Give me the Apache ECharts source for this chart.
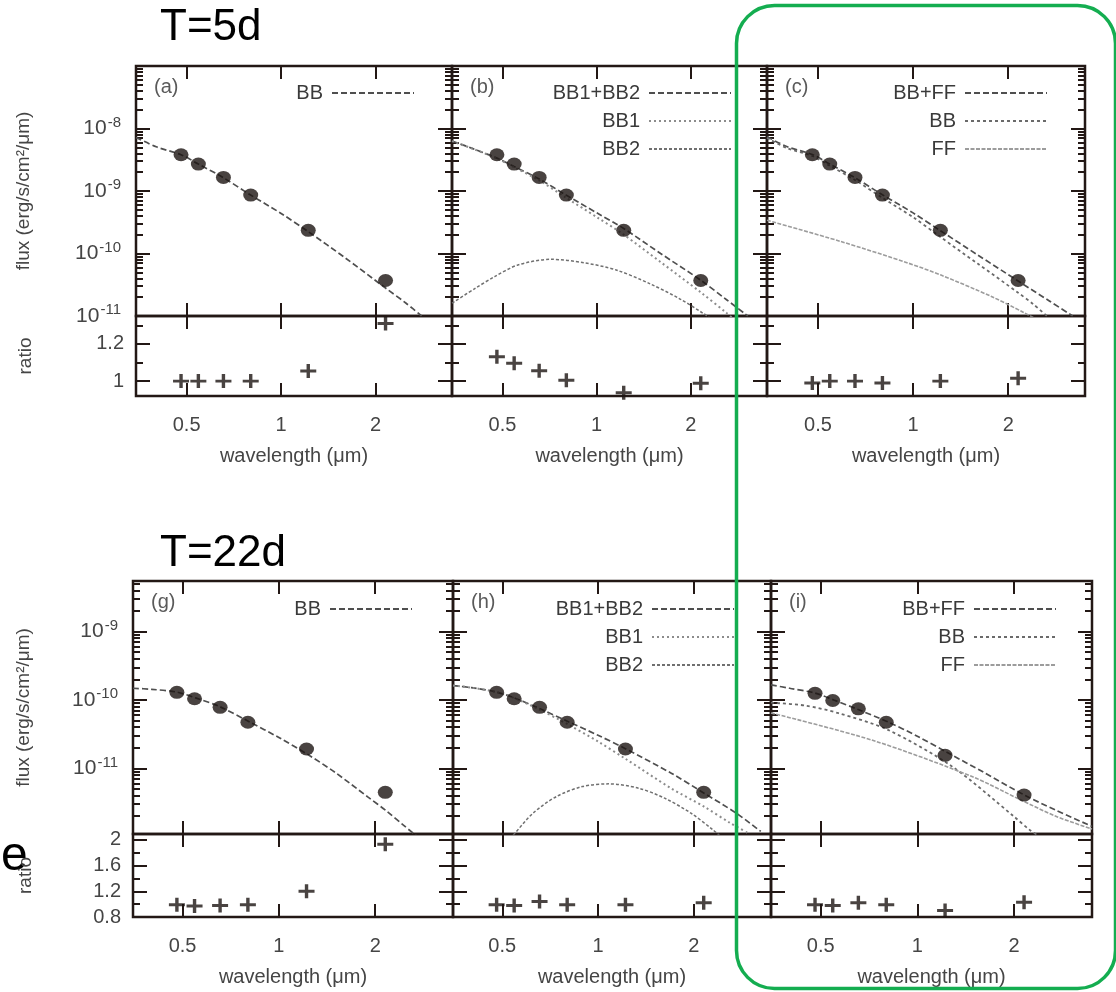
<!DOCTYPE html>
<html>
<head>
<meta charset="utf-8">
<script src="https://cdn.jsdelivr.net/npm/echarts@6/dist/echarts.min.js"></script>
<style>
html,body{margin:0;padding:0;background:#fff;}
#chart{width:1116px;height:992px;}
</style>
</head>
<body>
<div id="chart"></div>
<script>
// ---------- photometric bands (μm) and measured fluxes ----------
const bandWl = [0.48, 0.545, 0.655, 0.80, 1.22, 2.15];
const flux5d = [3.8e-9, 2.7e-9, 1.65e-9, 8.6e-10, 2.35e-10, 3.7e-11];
const flux22d = [1.29e-10, 1.04e-10, 7.8e-11, 4.72e-11, 1.92e-11, 4.47e-12];
const flux22dI = [1.25e-10, 9.8e-11, 7.4e-11, 4.72e-11, 1.55e-11, 4.07e-12];

// ---------- data / model ratios ----------
const ratioA = [1.0, 1.0, 1.0, 1.0, 1.054, 1.31];
const ratioB = [1.131, 1.096, 1.056, 1.005, 0.937, 0.988];
const ratioC = [0.99, 1.0, 1.0, 0.99, 1.0, 1.015];
const ratioG = [0.99, 0.97, 0.98, 0.99, 1.2, 1.93];
const ratioH = [0.99, 0.98, 1.04, 0.99, 0.99, 1.02];
const ratioI = [0.99, 0.98, 1.02, 0.99, 0.90, 1.03];

// ---------- model spectra, T = 5 d ----------
const wlA = [0.345, 0.40, 0.48, 0.545, 0.655, 0.80, 1.0, 1.22, 1.6, 2.15, 2.5, 2.8];
const bbA = [7.2e-9, 5.1e-9, 3.8e-9, 2.7e-9, 1.63e-9, 8.6e-10, 4.37e-10, 2.24e-10, 8.5e-11, 2.8e-11, 1.6e-11, 1.0e-11];

const wlB = [0.345, 0.40, 0.48, 0.545, 0.655, 0.80, 1.0, 1.22, 1.6, 2.15, 2.6, 3.04];
const sumB = [6.3e-9, 4.81e-9, 3.36e-9, 2.46e-9, 1.56e-9, 8.55e-10, 4.48e-10, 2.51e-10, 1.0e-10, 3.74e-11, 1.82e-11, 1.0e-11];
const wlB1 = [0.345, 0.40, 0.48, 0.545, 0.655, 0.80, 1.0, 1.22, 1.6, 2.15, 2.6, 2.7];
const bb1B = [6.28e-9, 4.78e-9, 3.32e-9, 2.40e-9, 1.48e-9, 7.76e-10, 3.83e-10, 2.0e-10, 7.3e-11, 2.39e-11, 1.12e-11, 9.5e-12];
const wlB2 = [0.345, 0.409, 0.472, 0.56, 0.714, 0.909, 1.154, 1.47, 1.83, 2.19, 2.4];
const bb2B = [1.6e-11, 2.77e-11, 4.26e-11, 6.55e-11, 8.07e-11, 7.13e-11, 5.45e-11, 3.33e-11, 1.92e-11, 1.1e-11, 8e-12];

const wlC = [0.345, 0.40, 0.48, 0.545, 0.655, 0.80, 1.0, 1.22, 1.6, 2.15, 2.7, 3.2];
const sumC = [7.4e-9, 5.1e-9, 3.84e-9, 2.7e-9, 1.63e-9, 8.7e-10, 4.47e-10, 2.32e-10, 9.5e-11, 3.63e-11, 1.74e-11, 1.0e-11];
const wlCbb = [0.345, 0.40, 0.48, 0.545, 0.655, 0.80, 1.0, 1.22, 1.6, 2.15, 2.4, 2.65];
const bbC = [7.06e-9, 4.84e-9, 3.63e-9, 2.53e-9, 1.5e-9, 7.76e-10, 3.81e-10, 1.84e-10, 6.9e-11, 2.36e-11, 1.55e-11, 1.0e-11];
const wlCff = [0.345, 0.591, 0.962, 1.226, 1.763, 2.23, 2.6];
const ffC = [3.4e-10, 1.556e-10, 7.06e-11, 4.51e-11, 2.07e-11, 1.15e-11, 7.6e-12];

// ---------- model spectra, T = 22 d ----------
const wlG = [0.35, 0.40, 0.48, 0.549, 0.654, 0.81, 1.0, 1.235, 1.5, 1.9, 2.18, 2.45, 2.7];
const bbG = [1.48e-10, 1.43e-10, 1.30e-10, 1.07e-10, 7.96e-11, 4.77e-11, 2.82e-11, 1.58e-11, 8.7e-12, 3.8e-12, 2.34e-12, 1.48e-12, 1.02e-12];

const wlH = [0.35, 0.40, 0.48, 0.549, 0.654, 0.81, 1.0, 1.22, 1.7, 2.15, 2.72, 3.25];
const sumH = [1.62e-10, 1.51e-10, 1.30e-10, 1.06e-10, 7.5e-11, 4.77e-11, 3.05e-11, 1.94e-11, 8.5e-12, 4.38e-12, 2.22e-12, 1.2e-12];
const wlH1 = [0.35, 0.40, 0.48, 0.549, 0.654, 0.81, 1.0, 1.22, 1.7, 2.15, 2.6, 3.0];
const bb1H = [1.62e-10, 1.51e-10, 1.30e-10, 1.05e-10, 7.24e-11, 4.32e-11, 2.47e-11, 1.38e-11, 5.1e-12, 2.78e-12, 1.6e-12, 1.1e-12];
const wlH2 = [0.5, 0.536, 0.625, 0.74, 0.893, 1.08, 1.34, 1.62, 1.96, 2.3, 2.5];
const bb2H = [7.5e-13, 1.01e-12, 2.22e-12, 3.87e-12, 5.42e-12, 5.94e-12, 5.14e-12, 3.67e-12, 2.22e-12, 1.26e-12, 9e-13];

const wlI = [0.35, 0.40, 0.48, 0.549, 0.654, 0.81, 1.0, 1.24, 1.6, 2.15, 2.7, 3.5];
const sumI = [1.66e-10, 1.48e-10, 1.26e-10, 1.0e-10, 7.24e-11, 4.77e-11, 2.95e-11, 1.7e-11, 8.9e-12, 4.1e-12, 2.45e-12, 1.42e-12];
const wlIbb = [0.35, 0.448, 0.568, 0.81, 1.285, 2.0, 2.24, 2.5];
const bbI = [9.1e-11, 8.26e-11, 6.4e-11, 3.65e-11, 1.06e-11, 1.98e-12, 1.26e-12, 9e-13];
const wlIff = [0.35, 0.72, 1.48, 2.09, 2.7, 3.5];
const ffI = [6.46e-11, 2.6e-11, 7.6e-12, 3.5e-12, 2.0e-12, 1.3e-12];

// ---------- axis ticks ----------
const xTickVals = [0.5, 1, 2];
const fluxLabels5d = [1e-11, 1e-10, 1e-9, 1e-8];
const fluxLabels22d = [1e-11, 1e-10, 1e-9];
const ratioLabels5d = [1, 1.2];
const ratioMinor5d = [1.1, 1.3];
const ratioLabels22d = [0.8, 1.2, 1.6, 2];
const ratioMinor22d = [1.0, 1.4, 1.8];

// ---------- styling ----------
const INK = '#231815';
const TXT = '#454545';
const FONT = '"Liberation Sans", Arial, sans-serif';

const rows = [
  { fluxTop: 66, fluxH: 250, ratioTop: 316, ratioH: 80, edges: [136, 452, 767, 1085],
    yMin: 1e-11, yMax: 1e-7, yLabels: fluxLabels5d,
    rMin: 0.92, rMax: 1.35, rLabels: ratioLabels5d, rMinor: ratioMinor5d, xMin: 0.345, xMax: 3.5 },
  { fluxTop: 581, fluxH: 253, ratioTop: 834, ratioH: 83, edges: [133, 453, 771, 1092],
    yMin: 1.1e-12, yMax: 5.46e-9, yLabels: fluxLabels22d,
    rMin: 0.8, rMax: 2.09, rLabels: ratioLabels22d, rMinor: ratioMinor22d, xMin: 0.35, xMax: 3.5 }
];

const lineStyles = {
  main:  { color: '#4f4f4f', width: 1.7, type: [6, 3] },
  bb1:   { color: '#8c8c8c', width: 2.0, type: [2, 3] },
  bb2:   { color: '#707070', width: 1.5, type: [3, 2] },
  bbc:   { color: '#6a6a6a', width: 1.8, type: [3, 3] },
  ff:    { color: '#9c9c9c', width: 1.6, type: [4, 1.5] }
};

const panels = [
  { key: 'a', row: 0, col: 0, flux: flux5d, ratio: ratioA, legendRight: 696, legendTop: 78,
    curves: [ { name: 'BB', wl: wlA, f: bbA, style: 'main' } ] },
  { key: 'b', row: 0, col: 1, flux: flux5d, ratio: ratioB, legendRight: 379, legendTop: 78,
    curves: [ { name: 'BB1+BB2', wl: wlB, f: sumB, style: 'main' },
              { name: 'BB1', wl: wlB1, f: bb1B, style: 'bb1' },
              { name: 'BB2', wl: wlB2, f: bb2B, style: 'bb2' } ] },
  { key: 'c', row: 0, col: 2, flux: flux5d, ratio: ratioC, legendRight: 63, legendTop: 78,
    curves: [ { name: 'BB+FF', wl: wlC, f: sumC, style: 'main' },
              { name: 'BB', wl: wlCbb, f: bbC, style: 'bbc' },
              { name: 'FF', wl: wlCff, f: ffC, style: 'ff' } ] },
  { key: 'g', row: 1, col: 0, flux: flux22d, ratio: ratioG, legendRight: 698, legendTop: 594,
    curves: [ { name: 'BB', wl: wlG, f: bbG, style: 'main' } ] },
  { key: 'h', row: 1, col: 1, flux: flux22d, ratio: ratioH, legendRight: 376, legendTop: 594,
    curves: [ { name: 'BB1+BB2', wl: wlH, f: sumH, style: 'main' },
              { name: 'BB1', wl: wlH1, f: bb1H, style: 'bb1' },
              { name: 'BB2', wl: wlH2, f: bb2H, style: 'bb2' } ] },
  { key: 'i', row: 1, col: 2, flux: flux22dI, ratio: ratioI, legendRight: 54, legendTop: 594,
    curves: [ { name: 'BB+FF', wl: wlI, f: sumI, style: 'main' },
              { name: 'BB', wl: wlIbb, f: bbI, style: 'bbc' },
              { name: 'FF', wl: wlIff, f: ffI, style: 'ff' } ] }
];

// minor log ticks 2..9 x 10^n inside the range
function logMinors(lo, hi) {
  const out = [];
  for (let n = Math.floor(Math.log10(lo)); n <= Math.ceil(Math.log10(hi)); n++) {
    for (let k = 2; k <= 9; k++) {
      const v = k * Math.pow(10, n);
      if (v > lo && v < hi) out.push(v);
    }
  }
  return out;
}
function logMajors(lo, hi) {
  const out = [];
  for (let n = Math.floor(Math.log10(lo)); n <= Math.ceil(Math.log10(hi)); n++) {
    const v = Math.pow(10, n);
    if (v >= lo * 0.999 && v <= hi * 1.001) out.push(v);
  }
  return out;
}

const PLUS = 'path://M0,6.3H16V9.7H0Z M6.3,0H9.7V16H6.3Z';

const option = {
  animation: false,
  backgroundColor: '#ffffff',
  grid: [], xAxis: [], yAxis: [], series: [], legend: [], graphic: []
};

function addGrid(left, top, width, height) {
  option.grid.push({ left, top, width, height, show: true, borderColor: INK, borderWidth: 2.5,
    backgroundColor: 'transparent', containLabel: false, outerBoundsMode: 'none' });
  return option.grid.length - 1;
}

function tickStyle(len, vals) {
  return { show: true, inside: true, length: len, customValues: vals, lineStyle: { color: INK, width: 2 } };
}

function addXAxes(gi, row, withLabels) {
  const common = { gridIndex: gi, type: 'log', logBase: 10, min: row.xMin, max: row.xMax,
    axisLine: { show: false, onZero: false }, splitLine: { show: false }, minorTick: { show: false },
    axisTick: tickStyle(13, xTickVals), axisLabel: { show: false } };
  const bottom = Object.assign({}, common, { position: 'bottom' });
  if (withLabels) {
    bottom.axisLabel = { show: true, customValues: xTickVals, margin: 19, color: TXT, fontSize: 20,
      fontFamily: FONT, formatter: v => String(+Number(v).toPrecision(3)) };
    bottom.name = 'wavelength (μm)';
    bottom.nameLocation = 'middle';
    bottom.nameGap = 50;
    bottom.nameTextStyle = { color: TXT, fontSize: 20, fontFamily: FONT };
  }
  option.xAxis.push(bottom);
  const bi = option.xAxis.length - 1;
  option.xAxis.push(Object.assign({}, common, { position: 'top' }));
  return bi;
}

function addYAxes(gi, base, majors, minors, majLen, minLen, labelCfg, nameCfg) {
  const common = Object.assign({ gridIndex: gi, axisLine: { show: false, onZero: false },
    splitLine: { show: false }, minorTick: { show: false }, axisLabel: { show: false } }, base);
  const leftMajor = Object.assign({}, common, { position: 'left', axisTick: tickStyle(majLen, majors) });
  if (labelCfg) leftMajor.axisLabel = labelCfg;
  if (nameCfg) Object.assign(leftMajor, nameCfg);
  option.yAxis.push(leftMajor);
  const li = option.yAxis.length - 1;
  option.yAxis.push(Object.assign({}, common, { position: 'left', axisTick: tickStyle(minLen, minors) }));
  option.yAxis.push(Object.assign({}, common, { position: 'right', axisTick: tickStyle(majLen, majors) }));
  option.yAxis.push(Object.assign({}, common, { position: 'right', axisTick: tickStyle(minLen, minors) }));
  return li;
}

panels.forEach(p => {
  const row = rows[p.row];
  const left = row.edges[p.col];
  const width = row.edges[p.col + 1] - left;
  const first = p.col === 0;

  // flux panel
  const gF = addGrid(left, row.fluxTop, width, row.fluxH);
  const xF = addXAxes(gF, row, false);
  const yF = addYAxes(gF, { type: 'log', logBase: 10, min: row.yMin, max: row.yMax },
    logMajors(row.yMin, row.yMax), logMinors(row.yMin, row.yMax), 14, 7,
    first ? { show: true, customValues: row.yLabels, margin: 15, color: TXT, fontFamily: FONT,
      formatter: v => '{b|10}{s|' + Math.round(Math.log10(v)) + '}',
      rich: { b: { fontSize: 21, color: TXT, fontFamily: FONT },
              s: { fontSize: 15, color: TXT, fontFamily: FONT, padding: [0, 0, 12, 1] } } } : null,
    first ? { name: 'flux (erg/s/cm²/μm)', nameLocation: 'middle', nameRotate: 90,
      nameGap: left - 33, nameTextStyle: { color: TXT, fontSize: 19, fontFamily: FONT } } : null);

  // ratio panel
  const gR = addGrid(left, row.ratioTop, width, row.ratioH);
  const xR = addXAxes(gR, row, true);
  const yR = addYAxes(gR, { type: 'value', min: row.rMin, max: row.rMax },
    row.rLabels, row.rMinor, 14, 7,
    first ? { show: true, customValues: row.rLabels, margin: 12, color: TXT, fontSize: 20, fontFamily: FONT,
      formatter: v => String(+Number(v).toFixed(2)) } : null,
    first ? { name: 'ratio', nameLocation: 'middle', nameRotate: 90, nameGap: left - 35,
      nameTextStyle: { color: TXT, fontSize: 19, fontFamily: FONT } } : null);

  // model curves
  p.curves.forEach(c => {
    const ls = lineStyles[c.style];
    option.series.push({
      type: 'line', name: c.name + '#' + p.key, xAxisIndex: xF, yAxisIndex: yF,
      data: c.wl.map((w, i) => [w, c.f[i]]),
      symbol: 'none', showSymbol: false, smooth: 0.3, silent: true, clip: true,
      lineStyle: ls, itemStyle: { color: ls.color, opacity: 0 }, z: 2
    });
  });
  // photometry
  option.series.push({
    type: 'scatter', name: 'obs#' + p.key, xAxisIndex: xF, yAxisIndex: yF,
    data: bandWl.map((w, i) => [w, p.flux[i]]),
    symbol: 'circle', symbolSize: [15, 13], itemStyle: { color: '#1c1412' }, silent: true, z: 5
  });
  option.series.push({
    type: 'scatter', name: 'ratio#' + p.key, xAxisIndex: xR, yAxisIndex: yR,
    data: bandWl.map((w, i) => [w, p.ratio[i]]),
    symbol: PLUS, symbolSize: [16, 14], itemStyle: { color: '#1c1412' }, silent: true, z: 5
  });

  // legend, text left of the line sample
  option.legend.push({
    show: true, orient: 'vertical', align: 'right', right: p.legendRight, top: p.legendTop,
    itemWidth: 82, itemHeight: 14, itemGap: 8, selectedMode: false,
    itemStyle: { opacity: 0 },
    data: p.curves.map(c => c.name + '#' + p.key),
    formatter: n => n.split('#')[0],
    textStyle: { color: '#3a3a3a', fontSize: 20, fontFamily: FONT, padding: [0, 4, 0, 0] }
  });

  // panel tag
  option.graphic.push({ type: 'text', left: left + 18, top: row.fluxTop + 11,
    style: { text: '(' + p.key + ')', fontSize: 20, fontFamily: FONT, fill: '#5a5a5a' } });
});

// epoch titles and frame highlight
option.graphic.push(
  { type: 'text', left: 160, top: 6, style: { text: 'T=5d', fontSize: 44, fontFamily: FONT, fill: '#000' } },
  { type: 'text', left: 160, top: 532, style: { text: 'T=22d', fontSize: 44, fontFamily: FONT, fill: '#000' } },
  { type: 'text', left: 1, top: 833, style: { text: 'e', fontSize: 48, fontFamily: FONT, fill: '#000' } },
  { type: 'rect', left: 734, top: 3, z: 100,
    shape: { width: 379, height: 983, r: 38 },
    style: { fill: 'none', stroke: '#14ad50', lineWidth: 3.5 } }
);

const chart = echarts.init(document.getElementById('chart'), null, { renderer: 'canvas' });
chart.setOption(option);
</script>
</body>
</html>
